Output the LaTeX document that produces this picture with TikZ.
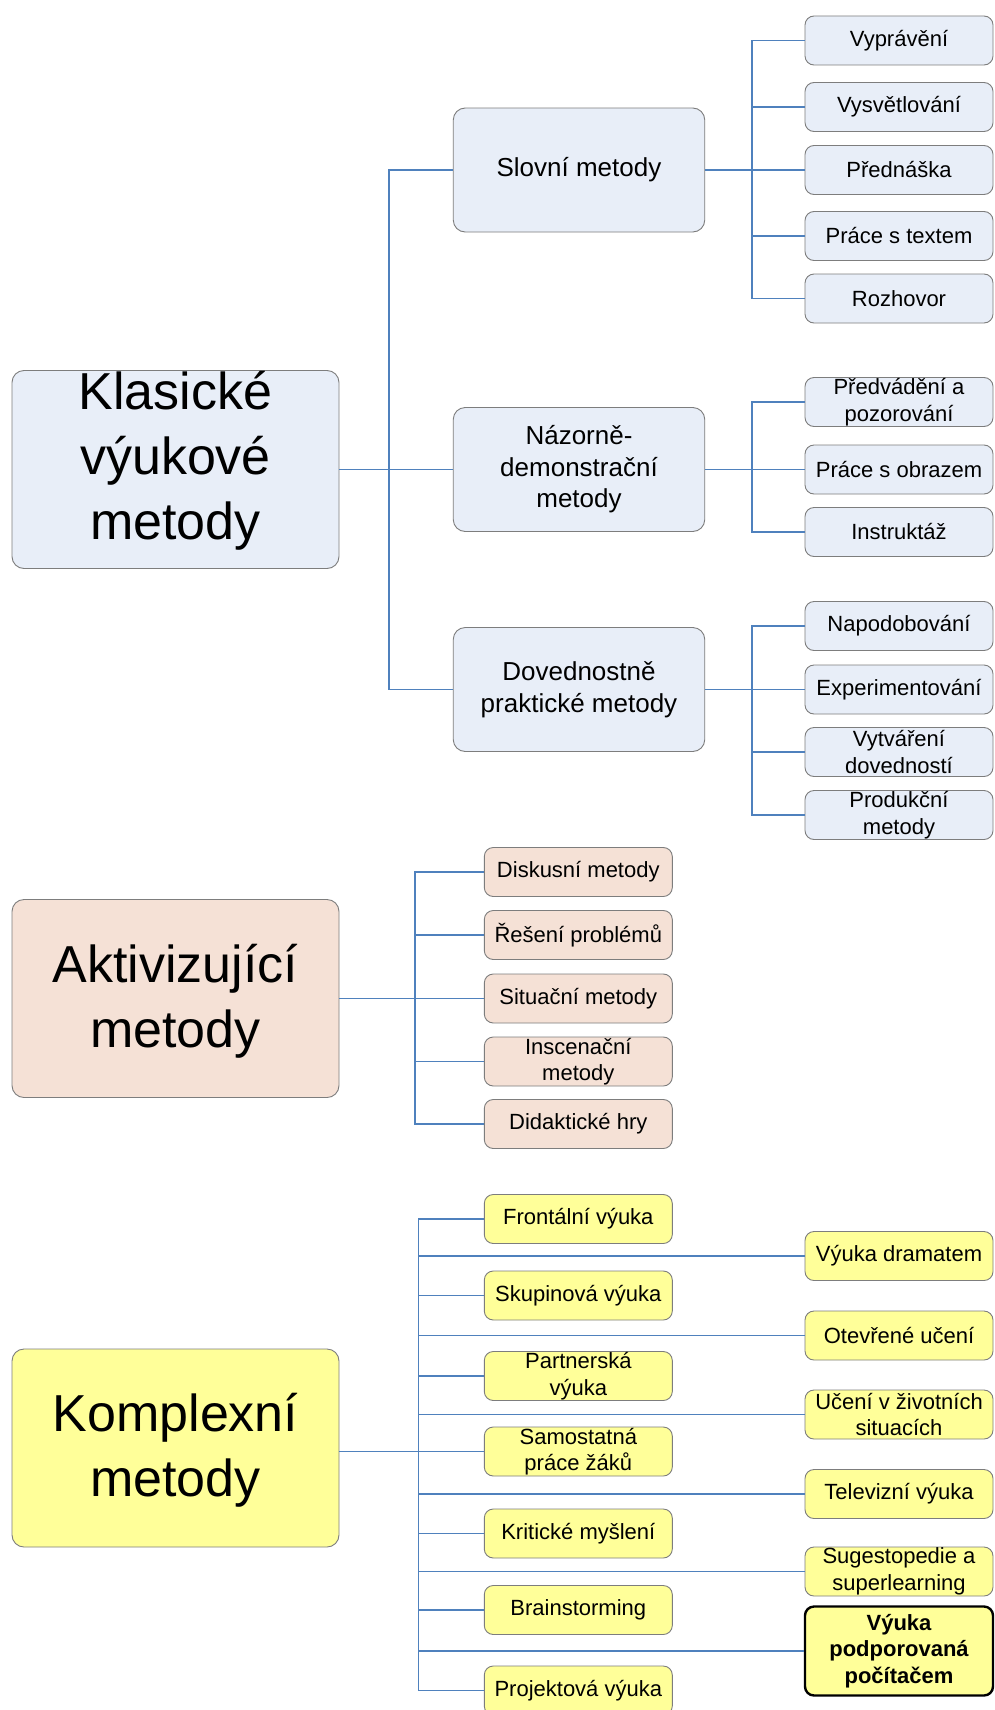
\documentclass[tikz,border=0pt]{standalone}
\usepackage{fontspec}
\setmainfont{Liberation Sans}
\definecolor{linkblue}{RGB}{79,129,189}
\definecolor{boxline}{RGB}{125,125,125}
\definecolor{bluefill}{RGB}{232,238,248}
\definecolor{pinkfill}{RGB}{245,225,214}
\definecolor{yellowfill}{RGB}{255,255,153}
\tikzset{
  box/.style={draw=boxline, line width=0.9pt, rounded corners=9pt, align=center,
    inner sep=0pt, font=\fontsize{22}{26.5}\selectfont},
  bigbox/.style={box, minimum width=327pt, minimum height=198pt, rounded corners=12pt},
  bigtext/.style={align=center, inner sep=0pt, font=\fontsize{52}{65}\selectfont},
  midbox/.style={box, fill=bluefill, minimum width=251.5pt, minimum height=124pt,
    rounded corners=12pt, font=\fontsize{26}{31.5}\selectfont},
  leaf/.style={box, minimum width=188pt, minimum height=49pt},
  blueleaf/.style={leaf, fill=bluefill},
  pinkleaf/.style={leaf, fill=pinkfill},
  yelleaf/.style={leaf, fill=yellowfill},
  link/.style={draw=linkblue, line width=1.3pt},
}
\begin{document}
\begin{tikzpicture}[x=1pt,y=-1pt]
\useasboundingbox (0,0) rectangle (994,1710);
\fill[white] (0,0) rectangle (994,1710);

% ---------- Klasické výukové metody ----------
\node[bigbox, fill=bluefill] (klas) at (175.5,469.5) {};
\node[bigtext] (klast) at (175.5,461) {Klasické\\výukové\\metody};

\node[midbox] (slov) at (579,170) {Slovní metody};
\node[midbox] (naz) at (579,469.5) {Názorně-\\demonstrační\\metody};
\node[midbox] (dov) at (579,689.5) {Dovednostně\\praktické metody};

\node[blueleaf] (s1) at (899,40.5) {Vyprávění};
\node[blueleaf] (s2) at (899,107) {Vysvětlování};
\node[blueleaf] (s3) at (899,170) {Přednáška};
\node[blueleaf] (s4) at (899,236) {Práce s textem};
\node[blueleaf] (s5) at (899,298.5) {Rozhovor};

\node[blueleaf] (n1) at (899,402) {Předvádění a\\pozorování};
\node[blueleaf] (n2) at (899,469.5) {Práce s obrazem};
\node[blueleaf] (n3) at (899,532) {Instruktáž};

\node[blueleaf] (d1) at (899,626) {Napodobování};
\node[blueleaf] (d2) at (899,689.5) {Experimentování};
\node[blueleaf] (d3) at (899,752) {Vytváření\\dovedností};
\node[blueleaf] (d4) at (899,815) {Produkční\\metody};

\coordinate (jk) at (389,469.5);
\draw[link] (klas.east) -- (naz.west);
\draw[link] (jk) |- (slov.west);
\draw[link] (jk) |- (dov.west);

\coordinate (js) at (752,170);
\draw[link] (slov.east) -- (js);
\foreach \n in {s1,s2,s3,s4,s5} \draw[link] (js) |- (\n.west);

\coordinate (jn) at (752,469.5);
\draw[link] (naz.east) -- (jn);
\foreach \n in {n1,n2,n3} \draw[link] (jn) |- (\n.west);

\coordinate (jd) at (752,689.5);
\draw[link] (dov.east) -- (jd);
\foreach \n in {d1,d2,d3,d4} \draw[link] (jd) |- (\n.west);

% ---------- Aktivizující metody ----------
\node[bigbox, fill=pinkfill] (akt) at (175.5,998.5) {};
\node[bigtext] (aktt) at (175.5,1001) {Aktivizující\\metody};

\node[pinkleaf] (a1) at (578.3,872) {Diskusní metody};
\node[pinkleaf] (a2) at (578.3,935) {Řešení problémů};
\node[pinkleaf] (a3) at (578.3,998.5) {Situační metody};
\node[pinkleaf] (a4) at (578.3,1061.5) {Inscenační\\metody};
\node[pinkleaf] (a5) at (578.3,1124) {Didaktické hry};

\coordinate (ja) at (415,998.5);
\draw[link] (akt.east) -- (ja);
\foreach \n in {a1,a2,a3,a4,a5} \draw[link] (ja) |- (\n.west);

% ---------- Komplexní metody ----------
\node[bigbox, fill=yellowfill] (komp) at (175.5,1448) {};
\node[bigtext] (kompt) at (175.5,1450) {Komplexní\\metody};

\node[yelleaf] (k1) at (578.3,1219) {Frontální výuka};
\node[yelleaf] (k2) at (578.3,1295.5) {Skupinová výuka};
\node[yelleaf] (k3) at (578.3,1376) {Partnerská\\výuka};
\node[yelleaf] (k4) at (578.3,1451.5) {Samostatná\\práce žáků};
\node[yelleaf] (k5) at (578.3,1533.5) {Kritické myšlení};
\node[yelleaf] (k6) at (578.3,1610) {Brainstorming};
\node[yelleaf] (k7) at (578.3,1690.5) {Projektová výuka};

\node[yelleaf] (r1) at (899,1256) {Výuka dramatem};
\node[yelleaf] (r2) at (899,1335.5) {Otevřené učení};
\node[yelleaf] (r3) at (899,1414.5) {Učení v životních\\situacích};
\node[yelleaf] (r4) at (899,1494) {Televizní výuka};
\node[yelleaf] (r5) at (899,1571.5) {Sugestopedie a\\superlearning};
\node[yelleaf, draw=black, line width=2.4pt, minimum height=89pt,
      font=\fontsize{22}{26.5}\selectfont\bfseries] (r6) at (899,1651)
      {Výuka\\podporovaná\\počítačem};

\coordinate (jc) at (418.5,1451.5);
\draw[link] (komp.east |- jc) -- (k4.west);
\foreach \n in {k1,k2,k3,k5,k6,k7,r1,r2,r3,r4,r5,r6} \draw[link] (jc) |- (\n.west);
\end{tikzpicture}
\end{document}
